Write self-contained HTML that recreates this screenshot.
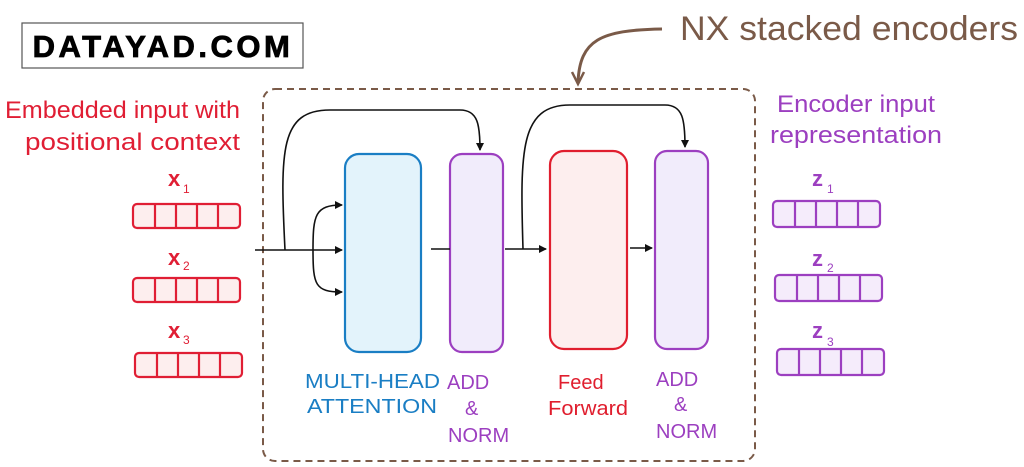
<!DOCTYPE html>
<html><head><meta charset="utf-8"><style>
body{margin:0;background:#fff;width:1024px;height:467px;overflow:hidden}
svg{display:block}
text{font-family:"Liberation Sans",sans-serif}
</style></head><body>
<svg width="1024" height="467" viewBox="0 0 1024 467">
<defs>
<marker id="ah" markerWidth="8" markerHeight="8" refX="7" refY="4" orient="auto" markerUnits="userSpaceOnUse"><path d="M0,0 L8,4 L0,8 z" fill="#111"/></marker>
</defs>
<rect x="22" y="23" width="281" height="45" fill="#fff" stroke="#555" stroke-width="1.2"/>
<text x="163" y="57" text-anchor="middle" font-size="31" font-weight="bold" fill="#000" letter-spacing="3.5" stroke="#000" stroke-width="0.8">DATAYAD.COM</text>
<text x="680" y="40" font-size="34" fill="#7a5a48" textLength="338" lengthAdjust="spacingAndGlyphs">NX stacked encoders</text>
<path d="M662,29 C600,30 580,40 578,82" fill="none" stroke="#7a5a48" stroke-width="3"/>
<path d="M572,72 L578,84 L584,72" fill="none" stroke="#7a5a48" stroke-width="2.5"/>
<rect x="263" y="89" width="492" height="372" rx="12" fill="none" stroke="#7a5a48" stroke-width="2" stroke-dasharray="7,5"/>
<text x="5" y="118" font-size="24" fill="#e01e34" textLength="235" lengthAdjust="spacingAndGlyphs">Embedded input with</text>
<text x="25" y="150" font-size="24" fill="#e01e34" textLength="215" lengthAdjust="spacingAndGlyphs">positional context</text>
<text x="777" y="112" font-size="24" fill="#9c3fc0" textLength="158" lengthAdjust="spacingAndGlyphs">Encoder input</text>
<text x="770" y="143" font-size="24" fill="#9c3fc0" textLength="172" lengthAdjust="spacingAndGlyphs">representation</text>
<g fill="#e01e34" font-size="22" font-weight="bold">
<text x="168" y="186">x</text><text x="183" y="193" font-size="12" font-weight="normal">1</text>
<text x="168" y="265">x</text><text x="183" y="270" font-size="12" font-weight="normal">2</text>
<text x="168" y="338">x</text><text x="183" y="344" font-size="12" font-weight="normal">3</text>
</g>
<g fill="#9c3fc0" font-size="22" font-weight="bold">
<text x="812" y="186">z</text><text x="827" y="193" font-size="12" font-weight="normal">1</text>
<text x="812" y="266">z</text><text x="827" y="272" font-size="12" font-weight="normal">2</text>
<text x="812" y="338">z</text><text x="827" y="346" font-size="12" font-weight="normal">3</text>
</g>
<g stroke="#e01e34" stroke-width="2.2" fill="#fdeeee">
<rect x="133" y="204" width="107" height="24" rx="4"/><path d="M155,204v24M176,204v24M197,204v24M218,204v24"/>
<rect x="133" y="278" width="107" height="24" rx="4"/><path d="M155,278v24M176,278v24M197,278v24M218,278v24"/>
<rect x="135" y="353" width="107" height="24" rx="4"/><path d="M157,353v24M178,353v24M199,353v24M220,353v24"/>
</g>
<g stroke="#9c3fc0" stroke-width="2.2" fill="#f5ecfb">
<rect x="773" y="201" width="107" height="26" rx="4"/><path d="M795,201v26M816,201v26M837,201v26M858,201v26"/>
<rect x="775" y="275" width="107" height="26" rx="4"/><path d="M797,275v26M818,275v26M839,275v26M860,275v26"/>
<rect x="777" y="349" width="107" height="26" rx="4"/><path d="M799,349v26M820,349v26M841,349v26M862,349v26"/>
</g>
<rect x="345" y="154" width="76" height="198" rx="14" fill="#e3f3fb" stroke="#1a7ec4" stroke-width="2.2"/>
<rect x="450" y="154" width="53" height="198" rx="12" fill="#f1ecfb" stroke="#9c3fc0" stroke-width="2.2"/>
<rect x="550" y="151" width="77" height="198" rx="14" fill="#fdeeee" stroke="#e01e2e" stroke-width="2.2"/>
<rect x="655" y="151" width="53" height="198" rx="12" fill="#f1ecfb" stroke="#9c3fc0" stroke-width="2.2"/>
<g stroke="#111" stroke-width="1.6" fill="none">
<path d="M255,250 H342" marker-end="url(#ah)"/>
<path d="M285,250 C280,150 280,110 330,110 L460,110 C478,110 480,125 480,150" marker-end="url(#ah)"/>
<path d="M313,250 C313,215 315,205 342,205" marker-end="url(#ah)"/>
<path d="M313,250 C313,285 315,292 342,292" marker-end="url(#ah)"/>
<path d="M431,249 H450"/>
<path d="M505,249 H546" marker-end="url(#ah)"/>
<path d="M523,249 C520,150 520,105 570,105 L665,105 C683,105 685,120 685,147" marker-end="url(#ah)"/>
<path d="M630,248 H652" marker-end="url(#ah)"/>
</g>
<g font-size="20">
<text x="305" y="388" fill="#1a7ec4" textLength="135" lengthAdjust="spacingAndGlyphs">MULTI-HEAD</text>
<text x="307" y="413" fill="#1a7ec4" textLength="130" lengthAdjust="spacingAndGlyphs">ATTENTION</text>
<text x="447" y="389" fill="#9c3fc0">ADD</text>
<text x="465" y="415" fill="#9c3fc0">&amp;</text>
<text x="448" y="442" fill="#9c3fc0">NORM</text>
<text x="558" y="389" fill="#e01e2e">Feed</text>
<text x="548" y="415" fill="#e01e2e" textLength="80" lengthAdjust="spacingAndGlyphs">Forward</text>
<text x="656" y="386" fill="#9c3fc0">ADD</text>
<text x="674" y="411" fill="#9c3fc0">&amp;</text>
<text x="656" y="438" fill="#9c3fc0">NORM</text>
</g>
</svg>
</body></html>
